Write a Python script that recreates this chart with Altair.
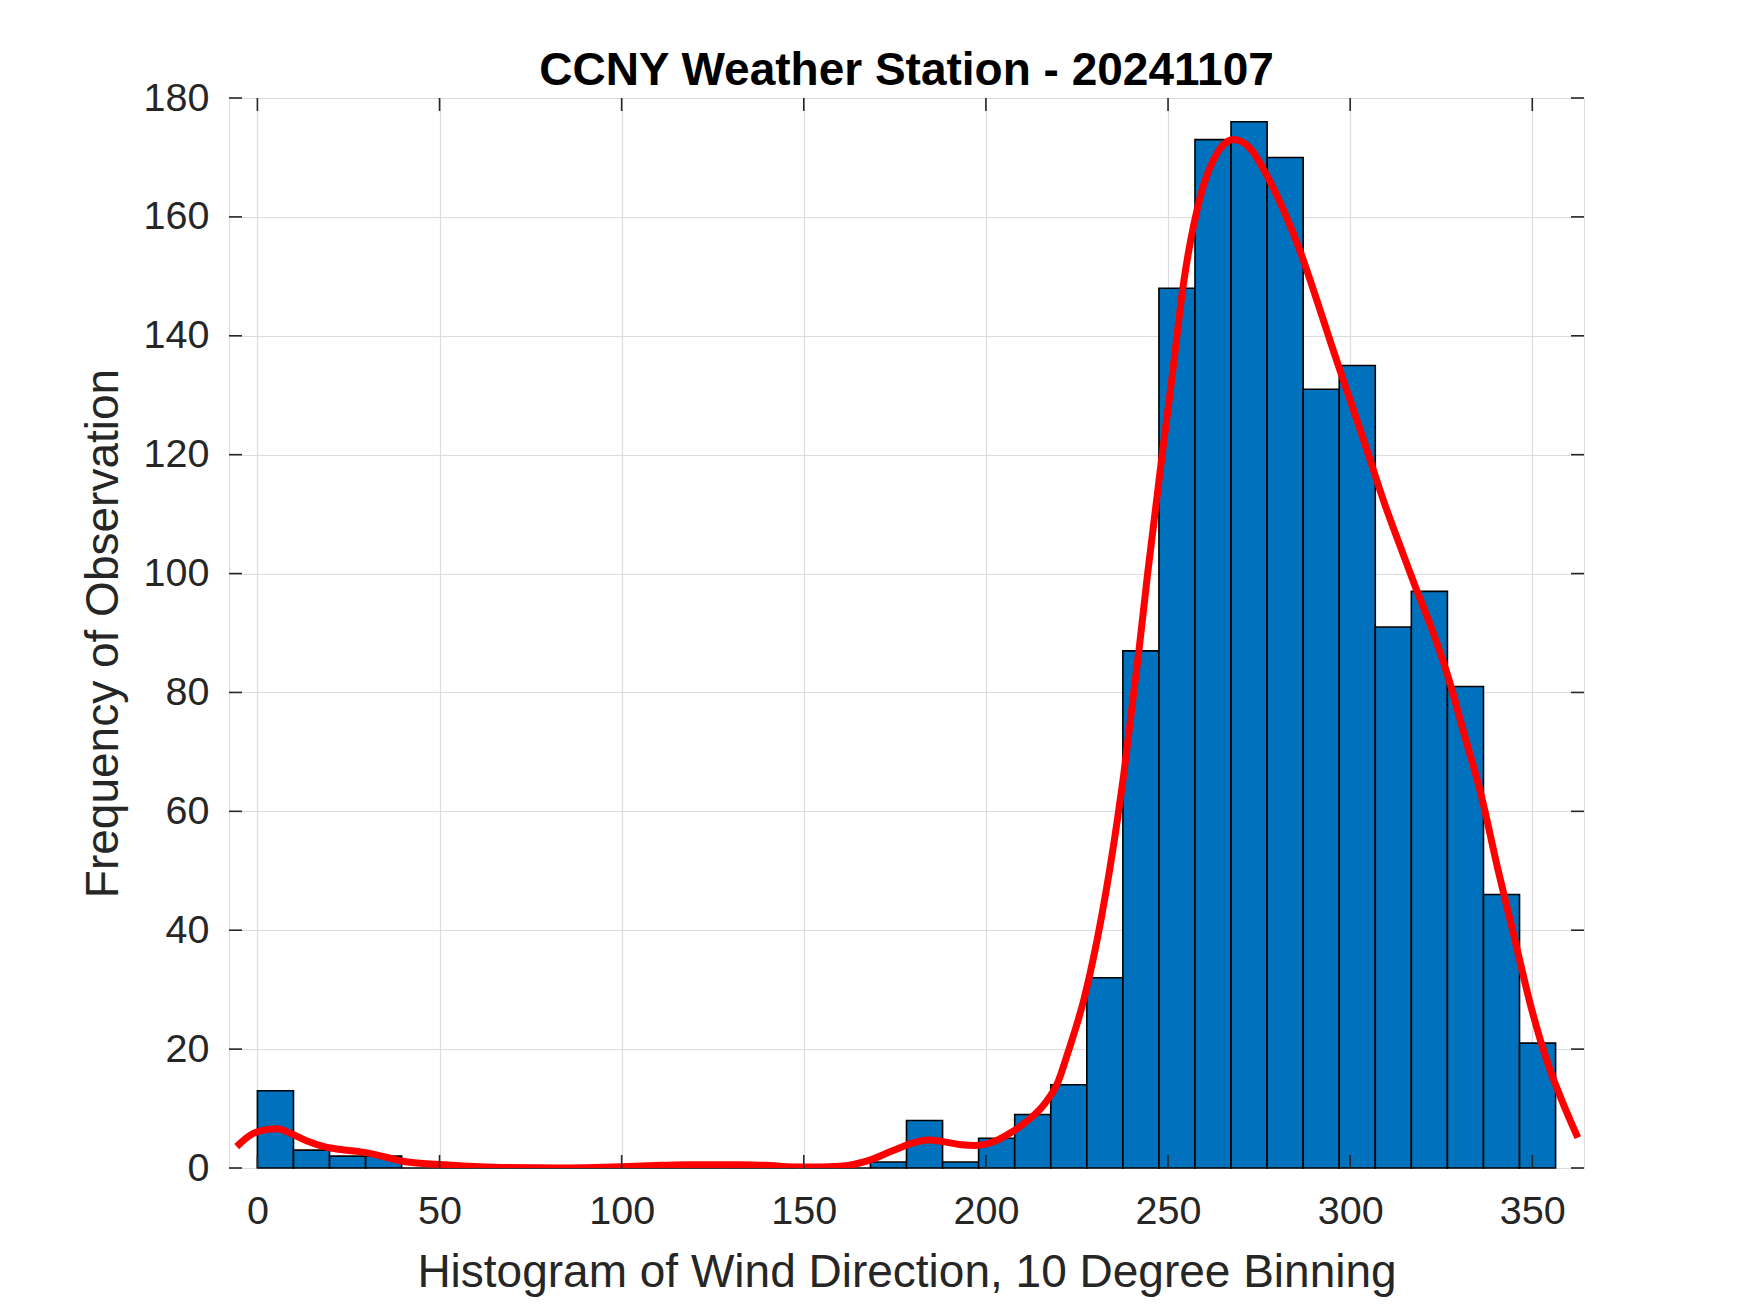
import altair as alt
import pandas as pd

# ---- data ----
bin_left = [0.0, 9.9, 19.8, 29.7, 39.6, 49.5, 59.4, 69.3, 79.2, 89.1, 99.0, 108.9,
            118.8, 128.7, 138.6, 148.5, 158.4, 168.3, 178.2, 188.1, 198.0, 207.9,
            217.8, 227.7, 237.6, 247.5, 257.4, 267.3, 277.2, 287.1, 297.0, 306.9,
            316.8, 326.7, 336.6, 346.5]
bin_right = [9.9, 19.8, 29.7, 39.6, 49.5, 59.4, 69.3, 79.2, 89.1, 99.0, 108.9, 118.8,
             128.7, 138.6, 148.5, 158.4, 168.3, 178.2, 188.1, 198.0, 207.9, 217.8,
             227.7, 237.6, 247.5, 257.4, 267.3, 277.2, 287.1, 297.0, 306.9, 316.8,
             326.7, 336.6, 346.5, 356.4]
counts = [13, 3, 2, 2, 0, 0, 0, 0, 0, 0, 0, 0,
          0, 0, 0, 0, 0, 1, 8, 1, 5, 9,
          14, 32, 87, 148, 173, 176, 170, 131, 135, 91,
          97, 81, 46, 21]

fit_x = [-5.7, -1.8, 2.8, 5.5, 9.2, 13.8, 18.3, 22.9, 27.5, 32.1, 36.7, 41.3, 50, 58, 67,
         83, 100, 111, 118, 132, 139, 150, 160, 167, 174, 179.4, 184, 188.6, 193.2, 197,
         202.4, 207, 211.5, 216.1, 219.8, 222.4, 227, 231.6, 236.2, 237.8, 240.4, 242,
         244.4, 248.4, 251, 254.3, 259, 263.5, 268, 272.7, 277.2, 281.8, 286.4, 291,
         295.5, 300.1, 304.7, 309.3, 313.8, 318, 322.1, 326.7, 331.3, 335.9, 340.5,
         345.1, 349.7, 354.3, 358.9, 362.5]
fit_y = [3.6, 5.6, 6.5, 6.6, 5.8, 4.5, 3.6, 3.1, 2.8, 2.3, 1.6, 1.0, 0.6, 0.3, 0.1,
         0.0, 0.2, 0.45, 0.55, 0.55, 0.45, 0.15, 0.3, 1.1, 2.8, 4.1, 4.7, 4.4, 3.9, 3.8,
         4.5, 6.0, 8.0, 10.8, 14.5, 19.2, 28.6, 41.8, 59, 66, 79, 87,
         100, 120, 132.5, 149, 163.7, 170.7, 173, 171.4, 166.9, 161, 154, 145.7,
         137.3, 129, 120.6, 112, 104.5, 97.6, 91.2, 83, 73, 62.9, 50.4,
         38.7, 27, 17.5, 10.2, 5.1]

x_ticks = [0, 50, 100, 150, 200, 250, 300, 350]
y_ticks = [0, 20, 40, 60, 80, 100, 120, 140, 160, 180]

title_text = "CCNY Weather Station - 20241107"
x_title = "Histogram of Wind Direction, 10 Degree Binning"
y_title = "Frequency of Observation"

W, H = 1355, 1070
FONT = "Liberation Sans"
AXC = "#262626"

bars_df = pd.DataFrame({"x0": bin_left, "x1": bin_right, "count": counts})
bars_df["zero"] = 0
fit_df = pd.DataFrame({"x": fit_x, "y": fit_y})
xt_df = pd.DataFrame({"t": x_ticks})
yt_df = pd.DataFrame({"t": y_ticks})

xscale = alt.Scale(domain=[-7.8, 364.2], nice=False, zero=False)
yscale = alt.Scale(domain=[0, 180], nice=False)

xaxis = alt.Axis(values=x_ticks, title=x_title, grid=True, gridColor="#dcdcdc",
                 gridWidth=1.2, ticks=False, domain=False, labelFont=FONT,
                 labelFontSize=39.5, labelColor=AXC, labelPadding=24,
                 titleFont=FONT, titleFontSize=46, titleFontWeight="normal",
                 titleColor=AXC, titlePadding=20, labelFlush=False)
yaxis = alt.Axis(values=y_ticks, title=y_title, grid=True, gridColor="#dcdcdc",
                 gridWidth=1.2, ticks=False, domain=False, labelFont=FONT,
                 labelFontSize=39.5, labelColor=AXC, labelPadding=20,
                 titleFont=FONT, titleFontSize=46, titleFontWeight="normal",
                 titleColor=AXC, titlePadding=16, labelFlush=False)

bars = alt.Chart(bars_df).mark_rect(
    fill="#0072BD", stroke="#000000", strokeWidth=1.6
).encode(
    x=alt.X("x0:Q", scale=xscale, axis=xaxis),
    x2="x1:Q",
    y=alt.Y("count:Q", scale=yscale, axis=yaxis),
    y2="zero:Q",
)

fit = alt.Chart(fit_df).mark_line(
    color="#FF0000", strokeWidth=7, interpolate="monotone", clip=True
).encode(
    x=alt.X("x:Q", scale=xscale),
    y=alt.Y("y:Q", scale=yscale),
)

TL = 13
xt_bottom = alt.Chart(xt_df).mark_rule(color=AXC, strokeWidth=1.6).encode(
    x=alt.X("t:Q", scale=xscale), y=alt.value(H), y2=alt.value(H - TL))
xt_top = alt.Chart(xt_df).mark_rule(color=AXC, strokeWidth=1.6).encode(
    x=alt.X("t:Q", scale=xscale), y=alt.value(0), y2=alt.value(TL))
yt_left = alt.Chart(yt_df).mark_rule(color=AXC, strokeWidth=1.6).encode(
    y=alt.Y("t:Q", scale=yscale), x=alt.value(0), x2=alt.value(TL))
yt_right = alt.Chart(yt_df).mark_rule(color=AXC, strokeWidth=1.6).encode(
    y=alt.Y("t:Q", scale=yscale), x=alt.value(W - TL), x2=alt.value(W))

chart = alt.layer(bars, fit, xt_bottom, xt_top, yt_left, yt_right).properties(
    width=W, height=H,
    title=alt.TitleParams(text=title_text, font=FONT, fontSize=46, fontWeight="bold",
                          color="#000000", anchor="middle", offset=14, dy=31),
    autosize=alt.AutoSizeParams(type="none"),
    padding={"left": 221, "top": 90, "right": 10, "bottom": 130},
).configure_view(
    stroke=AXC, strokeWidth=1.6
).configure(background="#ffffff")

chart.save("out.html", embed_options={"renderer": "svg", "actions": False})
